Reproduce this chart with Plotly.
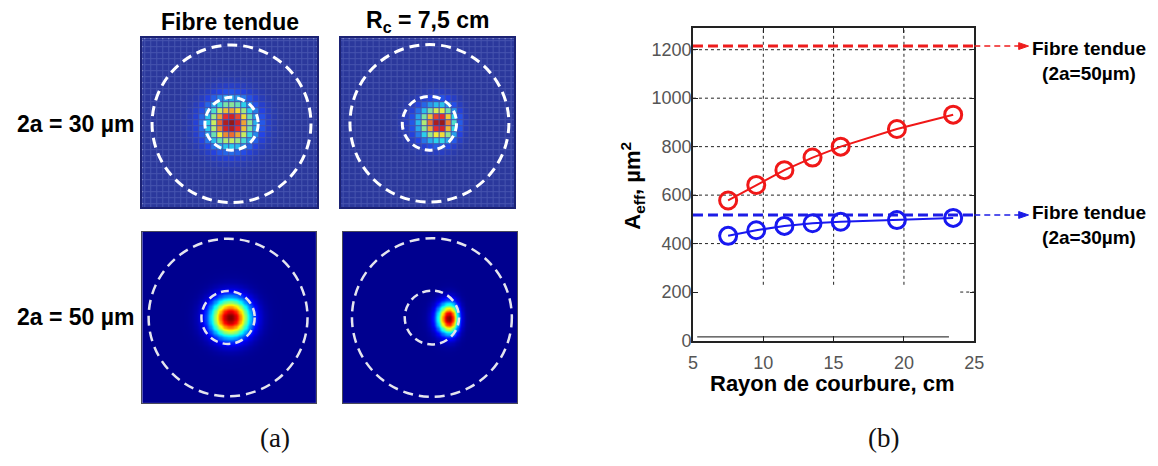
import numpy as np
import plotly.graph_objects as go

W, H = 1158, 466

# ---------------- (b) data ----------------
rayon_cm = [7.5, 9.5, 11.5, 13.5, 15.5, 19.5, 23.5]
aeff_50um = [578, 642, 703, 755, 800, 873, 932]
aeff_30um = [432, 455, 473, 484, 490, 497, 506]
aeff_tendue_50um = 1215
aeff_tendue_30um = 518
x_tick_vals = [5, 10, 15, 20, 25]
y_tick_vals = [0, 200, 400, 600, 800, 1000, 1200]
grid_full_y = [400, 600, 800, 1000, 1200]
grid_stub_y = [200]
grid_x = [10, 15, 20]

# ---------------- (a) mode image parameters (pixels) ----------------
panel_dom = {  # left, right, top, bottom in page px
    "tl": (139, 316, 39, 212),
    "tr": (340, 516, 39, 212),
    "bl": (139, 315, 237, 412),
    "br": (342, 519, 237, 412),
}
spot_dx = {"tl": 2, "tr": 13.5, "bl": 1, "br": 19.5}
spot_dy = {"tl": -1, "tr": -0.5, "bl": 0, "br": -0.5}
spot_sx_left = {"tl": 16.5, "tr": 15, "bl": 13.5, "br": 8.5}
spot_sx_right = {"tl": 16.5, "tr": 10.5, "bl": 13.5, "br": 6}
spot_sy = {"tl": 16.5, "tr": 13, "bl": 13.5, "br": 10.5}
circle_dx = {"tl": 2, "tr": 2, "bl": -1, "br": 2}
circle_dy = {"tl": -1, "tr": -0.5, "bl": 0, "br": 0}
core_r = {"tl": 27, "tr": 27.5, "bl": 27, "br": 27.5}
clad_r = {"tl": 80.5, "tr": 80.5, "bl": 80.5, "br": 81}

jet = [[0, "#00008f"], [0.125, "#0000ff"], [0.375, "#00ffff"],
       [0.625, "#ffff00"], [0.875, "#ff0000"], [1, "#800000"]]
jet_washed = [[0, "#2b389c"], [0.125, "#2342e6"], [0.375, "#2ad8ec"],
              [0.625, "#f2f23a"], [0.875, "#e8262a"], [1, "#8c1a1a"]]

FONT = "Liberation Sans, Arial, sans-serif"

fig = go.Figure()
layout_axes = {}
shapes = []
annotations = []


def px2paper_x(x):
    return x / W


def px2paper_y(y):
    return 1 - y / H


for i, name in enumerate(["tl", "tr", "bl", "br"]):
    l, r, t, b = panel_dom[name]
    w, h = r - l, b - t
    axn = i + 2
    xa, ya = f"x{axn}", f"y{axn}"
    top_row = name in ("tl", "tr")
    n = 30 if top_row else 140
    xs = np.linspace(-w / 2, w / 2, n)
    ys = np.linspace(-h / 2, h / 2, int(n * h / w))
    X, Y = np.meshgrid(xs, ys)
    dx = X - spot_dx[name]
    sx = np.where(dx < 0, spot_sx_left[name], spot_sx_right[name])
    Z = np.exp(-(dx ** 2) / (2 * sx ** 2) - (Y - spot_dy[name]) ** 2 / (2 * spot_sy[name] ** 2))
    if top_row:
        fig.add_trace(go.Heatmap(x=xs, y=ys, z=Z, colorscale=jet_washed, zmin=0, zmax=1,
                                 showscale=False, xgap=1, ygap=1, hoverinfo="skip",
                                 xaxis=xa, yaxis=ya))
        shapes.append(dict(type="rect", xref=xa, yref=ya, x0=-w / 2, x1=w / 2, y0=-h / 2, y1=h / 2,
                           fillcolor="#4654ae", line=dict(width=0), layer="below"))
    else:
        fig.add_trace(go.Heatmap(x=xs, y=ys, z=Z, colorscale=jet, zmin=0, zmax=1,
                                 showscale=False, zsmooth="best", hoverinfo="skip",
                                 xaxis=xa, yaxis=ya))
    frame_col = "#1b2274" if top_row else "#4a4a5a"
    frame_w = 2 if top_row else 1
    layout_axes[f"xaxis{axn}"] = dict(domain=[px2paper_x(l), px2paper_x(r)], range=[-w / 2, w / 2],
                                      showgrid=False, zeroline=False, showticklabels=False, ticks="",
                                      showline=True, mirror=True, linecolor=frame_col, linewidth=frame_w,
                                      anchor=ya, fixedrange=True)
    layout_axes[f"yaxis{axn}"] = dict(domain=[px2paper_y(b), px2paper_y(t)], range=[-h / 2, h / 2],
                                      showgrid=False, zeroline=False, showticklabels=False, ticks="",
                                      showline=True, mirror=True, linecolor=frame_col, linewidth=frame_w,
                                      anchor=xa, fixedrange=True)
    cw = 3 if top_row else 2.5
    ccol = "#ffffff" if top_row else "#e4e4ee"
    for rad, dash in ((clad_r[name], "10px,6px"), (core_r[name], "8px,5px")):
        cx, cy = circle_dx[name], circle_dy[name]
        shapes.append(dict(type="circle", xref=xa, yref=ya, x0=cx - rad, x1=cx + rad,
                           y0=cy - rad, y1=cy + rad,
                           line=dict(color=ccol, width=cw, dash=dash), layer="above"))

# ---------------- (b) plot ----------------
bl, br, bt, bb = 697, 982, 29, 348
YMAX = 1288

for gy in grid_full_y:
    shapes.append(dict(type="line", xref="x", yref="y", x0=5, x1=25, y0=gy, y1=gy,
                       line=dict(color="#222", width=1, dash="dot"), layer="below"))
for gy in grid_stub_y:
    shapes.append(dict(type="line", xref="x", yref="y", x0=24.0, x1=25, y0=gy, y1=gy,
                       line=dict(color="#222", width=1, dash="dot"), layer="below"))
for gx in grid_x:
    shapes.append(dict(type="line", xref="x", yref="y", x0=gx, x1=gx, y0=230, y1=YMAX,
                       line=dict(color="#222", width=1, dash="dot"), layer="below"))
# thin leftover line near bottom
shapes.append(dict(type="line", xref="x", yref="y", x0=5.3, x1=23.2, y0=15, y1=15,
                   line=dict(color="#111", width=1), layer="below"))

for val, col, ann_y, label in ((aeff_tendue_50um, "#ee1c1c", 62, "<b>Fibre tendue<br>(2a=50µm)</b>"),
                               (aeff_tendue_30um, "#1c1ce6", 230, "<b>Fibre tendue<br>(2a=30µm)</b>")):
    shapes.append(dict(type="line", xref="x", yref="y", x0=5, x1=25, y0=val, y1=val,
                       line=dict(color=col, width=3, dash="10px,5px"), layer="above"))
    shapes.append(dict(type="line", xref="paper", yref="y", x0=px2paper_x(br), x1=px2paper_x(1029),
                       y0=val, y1=val, line=dict(color=col, width=1.5, dash="6px,4px")))
    hy = 3.5 * YMAX / (bb - bt)
    x_a, x_b = px2paper_x(1027), px2paper_x(1037)
    shapes.append(dict(type="path", xref="paper", yref="y",
                       path=f"M {x_a} {val - hy} L {x_b} {val} L {x_a} {val + hy} Z",
                       fillcolor=col, line=dict(color=col, width=1)))
    annotations.append(dict(text=label, x=px2paper_x(1098), y=px2paper_y(ann_y), xref="paper", yref="paper",
                            showarrow=False, font=dict(family=FONT, size=19, color="#000"),
                            align="center", xanchor="center", yanchor="middle"))

fig.add_trace(go.Scatter(x=rayon_cm, y=aeff_50um, mode="lines+markers",
                         line=dict(color="#f01818", width=2),
                         marker=dict(symbol="circle-open", size=17, color="#f01818", line=dict(width=3)),
                         hoverinfo="skip", xaxis="x", yaxis="y"))
fig.add_trace(go.Scatter(x=rayon_cm, y=aeff_30um, mode="lines+markers",
                         line=dict(color="#1818f0", width=2),
                         marker=dict(symbol="circle-open", size=17, color="#1818f0", line=dict(width=3)),
                         hoverinfo="skip", xaxis="x", yaxis="y"))

# text annotations
for txt, x, y, size in (("<b>Fibre tendue</b>", 228, 22, 23),
                        ("<b>R<sub>c</sub> = 7,5 cm</b>", 428, 22, 23),
                        ("<b>2a = 30 µm</b>", 71, 127, 23),
                        ("<b>2a = 50 µm</b>", 71, 324, 23),
                        ("<b>Rayon de courbure, cm</b>", 838, 392, 22)):
    annotations.append(dict(text=txt, x=px2paper_x(x), y=px2paper_y(y), xref="paper", yref="paper",
                            showarrow=False, font=dict(family=FONT, size=size, color="#000"),
                            xanchor="center", yanchor="middle"))
annotations.append(dict(text="<b>A<sub>eff</sub>, µm<sup>2</sup></b>", x=px2paper_x(636), y=px2paper_y(190),
                        xref="paper", yref="paper", showarrow=False, textangle=-90,
                        font=dict(family=FONT, size=22, color="#000"), xanchor="center", yanchor="middle"))
for txt, x in (("(a)", 274), ("(b)", 890)):
    annotations.append(dict(text=txt, x=px2paper_x(x), y=px2paper_y(448), xref="paper", yref="paper",
                            showarrow=False, font=dict(family="Liberation Serif, Times New Roman, serif",
                                                       size=27, color="#111"),
                            xanchor="center", yanchor="middle"))

fig.update_layout(
    width=W, height=H, margin=dict(l=0, r=0, t=0, b=0),
    paper_bgcolor="white", plot_bgcolor="white", showlegend=False,
    xaxis=dict(domain=[px2paper_x(bl), px2paper_x(br)], range=[5, 25], tickvals=x_tick_vals,
               showgrid=False, zeroline=False, showline=True, mirror="ticks", linecolor="#222",
               linewidth=1.5, ticks="inside", ticklen=5, tickcolor="#222", ticklabelstandoff=5,
               tickfont=dict(family=FONT, size=18, color="#555"), anchor="y", fixedrange=True),
    yaxis=dict(domain=[px2paper_y(bb), px2paper_y(bt)], range=[0, YMAX], tickvals=y_tick_vals,
               showgrid=False, zeroline=False, showline=True, mirror="ticks", linecolor="#222",
               linewidth=1.5, ticks="inside", ticklen=5, tickcolor="#222", ticklabelstandoff=-4,
               tickfont=dict(family=FONT, size=18, color="#555"), anchor="x", fixedrange=True),
    shapes=shapes, annotations=annotations,
    **layout_axes,
)

fig.write_html("out.html")
